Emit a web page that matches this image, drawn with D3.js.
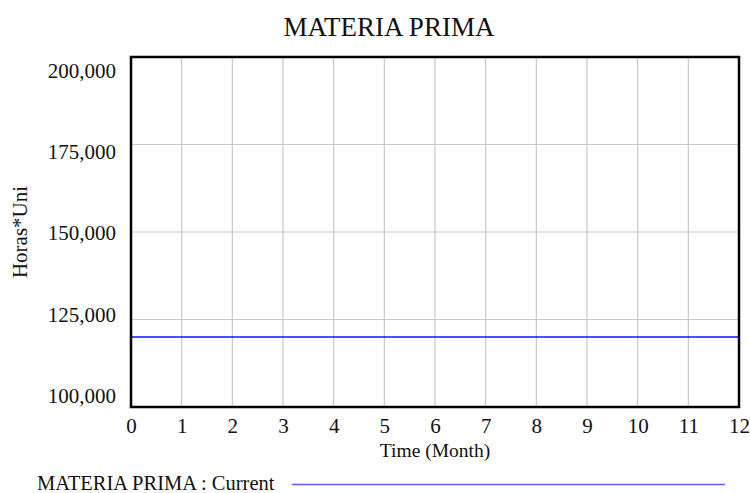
<!DOCTYPE html>
<html>
<head>
<meta charset="utf-8">
<script src="https://cdn.jsdelivr.net/npm/d3@7"></script>
<style>
  html, body { margin: 0; padding: 0; background: #fff; }
  svg { display: block; font-family: "Liberation Serif", "Times New Roman", serif; }
</style>
</head>
<body>
<svg id="chart" width="750" height="493"></svg>
<script>
// Monthly series for "MATERIA PRIMA : Current"
const months = [0, 1, 2, 3, 4, 5, 6, 7, 8, 9, 10, 11, 12];
const materiaPrima = [120000, 120000, 120000, 120000, 120000, 120000, 120000, 120000, 120000, 120000, 120000, 120000, 120000];
const yTicks = [100000, 125000, 150000, 175000, 200000];
const xTicks = [0, 1, 2, 3, 4, 5, 6, 7, 8, 9, 10, 11, 12];

const svg = d3.select("#chart");
const plot = { left: 131, right: 739, top: 57, bottom: 407 };

const x = d3.scaleLinear().domain([0, 12]).range([plot.left, plot.right]);
const y = d3.scaleLinear().domain([100000, 200000]).range([plot.bottom, plot.top]);
// Value labels are spread slightly inside the frame so the end ones stay within it
const yLabel = d3.scaleLinear().domain([100000, 200000]).range([plot.bottom - 11.5, plot.top + 14]);
const fmt = d3.format(",");

// Grid lines
const grid = svg.append("g").attr("stroke", "#c8c8c8").attr("stroke-width", 1.2);
xTicks.slice(1, -1).forEach(t => {
  grid.append("line").attr("x1", x(t)).attr("x2", x(t)).attr("y1", plot.top).attr("y2", plot.bottom);
});
yTicks.slice(1, -1).forEach(t => {
  grid.append("line").attr("x1", plot.left).attr("x2", plot.right).attr("y1", y(t)).attr("y2", y(t));
});

// Series line
const line = d3.line().x((d, i) => x(months[i])).y(d => y(d));
svg.append("path")
  .datum(materiaPrima)
  .attr("fill", "none")
  .attr("stroke", "#1010ff")
  .attr("stroke-width", 1.6)
  .attr("d", line);

// X axis labels
const xAxis = svg.append("g")
  .attr("transform", `translate(0,${plot.bottom})`)
  .call(d3.axisBottom(x).tickValues(xTicks).tickSize(0).tickPadding(11));
xAxis.select(".domain").remove();
xAxis.selectAll("text").attr("font-size", 21).attr("fill", "#111")
  .attr("font-family", "Liberation Serif, serif");

// Y axis labels
const yAxis = svg.append("g")
  .attr("transform", `translate(${plot.left},0)`)
  .call(d3.axisLeft(yLabel).tickValues(yTicks).tickFormat(fmt).tickSize(0).tickPadding(15));
yAxis.select(".domain").remove();
yAxis.selectAll("text").attr("font-size", 21).attr("fill", "#111")
  .attr("font-family", "Liberation Serif, serif");

// Plot frame
svg.append("rect")
  .attr("x", plot.left).attr("y", plot.top)
  .attr("width", plot.right - plot.left).attr("height", plot.bottom - plot.top)
  .attr("fill", "none").attr("stroke", "#000").attr("stroke-width", 2.5);

// Title
svg.append("text")
  .attr("x", 389).attr("y", 36)
  .attr("text-anchor", "middle")
  .attr("font-size", 27).attr("fill", "#111")
  .text("MATERIA PRIMA");

// Axis titles
svg.append("text")
  .attr("x", 435).attr("y", 457)
  .attr("text-anchor", "middle")
  .attr("font-size", 19.5).attr("fill", "#111")
  .text("Time (Month)");

svg.append("text")
  .attr("transform", "translate(27,232) rotate(-90)")
  .attr("text-anchor", "middle")
  .attr("font-size", 21).attr("fill", "#111")
  .text("Horas*Uni");

// Legend
svg.append("text")
  .attr("x", 37).attr("y", 490)
  .attr("font-size", 20.5).attr("fill", "#111")
  .text("MATERIA PRIMA : Current");
svg.append("line")
  .attr("x1", 292).attr("x2", 725).attr("y1", 484.5).attr("y2", 484.5)
  .attr("stroke", "#5c5cff").attr("stroke-width", 1.5);
</script>
</body>
</html>
